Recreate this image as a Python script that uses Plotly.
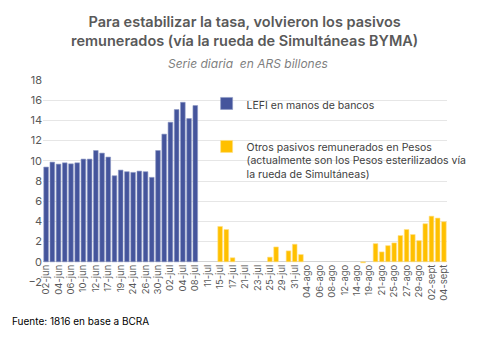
import plotly.graph_objects as go

# Business-day categories (every other one is labelled on the axis)
dates = [
    "02-jun", "03-jun", "04-jun", "05-jun", "06-jun", "09-jun", "10-jun", "11-jun", "12-jun", "13-jun",
    "17-jun", "18-jun", "19-jun", "23-jun", "24-jun", "25-jun", "26-jun", "27-jun", "30-jun",
    "01-jul", "02-jul", "03-jul", "04-jul", "07-jul", "08-jul", "10-jul", "11-jul", "14-jul", "15-jul",
    "16-jul", "17-jul", "18-jul", "21-jul", "22-jul", "23-jul", "24-jul", "25-jul", "28-jul", "29-jul",
    "30-jul", "31-jul", "01-ago", "04-ago", "05-ago", "06-ago", "07-ago", "08-ago", "11-ago", "12-ago",
    "13-ago", "14-ago", "18-ago", "19-ago", "20-ago", "21-ago", "22-ago", "25-ago", "26-ago", "27-ago",
    "28-ago", "29-ago", "01-sept", "02-sept", "03-sept", "04-sept",
]

lefi_dates = dates[:25]
lefi_values = [9.38, 9.87, 9.67, 9.8, 9.7, 9.8, 10.17, 10.17, 11.02, 10.76,
               10.37, 8.52, 9.08, 8.92, 8.85, 8.98, 8.92, 8.36, 11.02, 12.64,
               13.82, 15.07, 15.79, 14.18, 15.47]

otros_dates = ["15-jul", "16-jul", "17-jul", "25-jul", "28-jul", "30-jul", "31-jul", "01-ago",
               "18-ago", "20-ago", "21-ago", "22-ago", "25-ago", "26-ago", "27-ago", "28-ago",
               "29-ago", "01-sept", "02-sept", "03-sept", "04-sept"]
otros_values = [3.5, 3.2, 0.4, 0.46, 1.47, 1.08, 1.74, 0.72,
                -0.1, 1.8, 0.98, 1.6, 1.87, 2.6, 3.2, 2.7,
                2.1, 3.77, 4.52, 4.33, 3.97]

tick_labels = dates[::2]

title_text = ("Para estabilizar la tasa, volvieron los pasivos<br>"
              "remunerados (vía la rueda de Simultáneas BYMA)")
subtitle_text = "Serie diaria  en ARS billones"
source_text = "Fuente: 1816 en base a BCRA"

BLUE = "#45559C"
YELLOW = "#FFC000"
FONT = "Inter"
GREY = "#595959"

fig = go.Figure()
fig.add_trace(go.Bar(
    x=lefi_dates, y=lefi_values, name="LEFI en manos de bancos",
    marker=dict(color=BLUE, line=dict(color="#8d98c4", width=0.6)),
    legendgroup="a",
))
fig.add_trace(go.Bar(
    x=otros_dates, y=otros_values,
    name="Otros pasivos remunerados en Pesos<br>(actualmente son los Pesos esterilizados vía<br>la rueda de Simultáneas)",
    marker=dict(color=YELLOW, line=dict(color="#ffe08a", width=0.6)),
    legendgroup="b",
))

plot_l, plot_r, plot_t, plot_b = 43, 447, 80, 282.5
def px_x(px):
    return (px - plot_l) / (plot_r - plot_l)
def px_y(py):
    return (plot_b - py) / (plot_b - plot_t)

fig.update_layout(
    width=497, height=347,
    margin=dict(l=plot_l, r=497 - plot_r, t=plot_t, b=347 - plot_b),
    paper_bgcolor="white", plot_bgcolor="white",
    barmode="overlay", bargap=0.25,
    font=dict(family=FONT, color=GREY, size=11),
    showlegend=True,
    legend=dict(
        x=0.405, y=0.95, xanchor="left", yanchor="top",
        bgcolor="rgba(0,0,0,0)", font=dict(size=10.5, color="#404040", family=FONT),
        tracegroupgap=24, valign="top", itemwidth=30,
    ),
    xaxis=dict(
        type="category", categoryorder="array", categoryarray=dates,
        tickmode="array", tickvals=tick_labels, ticktext=tick_labels,
        tickangle=-90, tickfont=dict(size=9.5, color=GREY, family=FONT),
        showgrid=False, showline=False, ticks="",
        anchor="free", position=0.1, range=[-0.5, len(dates) - 0.5],
    ),
    yaxis=dict(
        range=[-2, 18], dtick=2, tick0=0,
        showgrid=True, gridcolor="#e6e6e6", gridwidth=1,
        zeroline=True, zerolinecolor="#d4d4d4", zerolinewidth=1.2,
        tickfont=dict(size=11, color=GREY, family=FONT), ticks="",
    ),
    annotations=[
        dict(text=title_text, x=px_x(244), y=px_y(11), xref="paper", yref="paper",
             xanchor="center", yanchor="top", showarrow=False,
             font=dict(size=14.5, color=GREY, family=FONT, weight=600), align="center"),
        dict(text="<i>" + subtitle_text + "</i>", x=px_x(248), y=px_y(54),
             xref="paper", yref="paper",
             xanchor="center", yanchor="top", showarrow=False,
             font=dict(size=12, color="#7f7f7f", family=FONT)),
        dict(text=source_text, x=px_x(10), y=px_y(322), xref="paper", yref="paper",
             xanchor="left", yanchor="middle", showarrow=False,
             font=dict(size=10, color="#000000", family=FONT)),
    ],
)

fig.write_html("out.html")
